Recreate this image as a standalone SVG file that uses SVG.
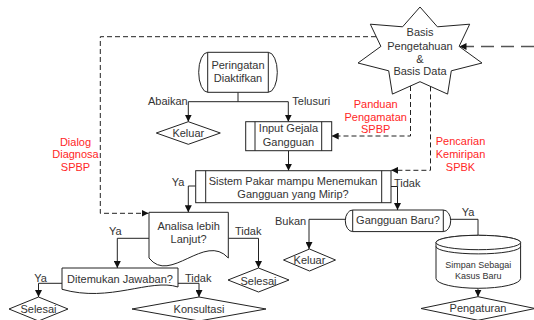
<svg xmlns="http://www.w3.org/2000/svg" width="534" height="320" viewBox="0 0 534 320">
  <style>
    .shape { fill: #ffffff; stroke: #222222; stroke-width: 1; }
    .line { fill: none; stroke: #222222; stroke-width: 1; }
    .dash { fill: none; stroke: #222222; stroke-width: 1; stroke-dasharray: 5 3; }
    .longdash { fill: none; stroke: #555555; stroke-width: 1.6; stroke-dasharray: 13 7; }
    text { font-family: "Liberation Sans", Arial, sans-serif; font-size: 11px; fill: #333333; }
    .c { text-anchor: middle; }
    .r { text-anchor: end; }
    .red { fill: #ff2626; }
    .small { font-size: 9px; }
  </style>
  <defs>
    <marker id="arrow" viewBox="0 0 8 8" refX="8" refY="4" markerWidth="7" markerHeight="7" markerUnits="userSpaceOnUse" orient="auto">
      <path d="M0,0 L8,4 L0,8 Z" fill="#111111"/>
    </marker>
  </defs>

  <rect width="534" height="320" fill="#ffffff"/>

  <!-- connectors -->
  <g id="connectors">
    <!-- Peringatan Diaktifkan branches -->
    <path class="line" d="M238,92.3 V101.7"/>
    <path class="line" d="M188.3,101.7 H288.3"/>
    <path class="line" d="M188.3,101.7 V121.7" marker-end="url(#arrow)"/>
    <path class="line" d="M288.3,101.7 V121.7" marker-end="url(#arrow)"/>
    <!-- Input Gejala to Sistem Pakar -->
    <path class="line" d="M288.5,150.7 V170.7" marker-end="url(#arrow)"/>
    <!-- Sistem Pakar branches -->
    <path class="line" d="M195.7,186 H188.3 V212.3" marker-end="url(#arrow)"/>
    <path class="line" d="M391,186.5 H397.5 V210" marker-end="url(#arrow)"/>
    <!-- Analisa lebih Lanjut branches -->
    <path class="line" d="M149,238.3 H117.3 V268" marker-end="url(#arrow)"/>
    <path class="line" d="M228.3,238.3 H258.5 V268" marker-end="url(#arrow)"/>
    <!-- Ditemukan Jawaban branches -->
    <path class="line" d="M62,283.3 H38.5 V297" marker-end="url(#arrow)"/>
    <path class="line" d="M178,283.3 H199 V297" marker-end="url(#arrow)"/>
    <!-- Gangguan Baru branches -->
    <path class="line" d="M345,219.3 H309 V249" marker-end="url(#arrow)"/>
    <path class="line" d="M450.7,219.3 H478 V235.3"/>
    <!-- cylinder to Pengaturan -->
    <path class="line" d="M478,288.3 V296.7" marker-end="url(#arrow)"/>

    <!-- knowledge base links -->
    <path class="dash" d="M376,36.7 H100.3 V213.3 H148.5" marker-end="url(#arrow)"/>
    <path class="dash" d="M410.5,86 V136 H331.7" marker-end="url(#arrow)"/>
    <path class="dash" d="M430.5,86.4 V170.3 H391.2" marker-end="url(#arrow)"/>
    <path class="longdash" d="M534,46.5 H459.5" marker-end="url(#arrow)"/>
  </g>

  <!-- nodes -->
  <g id="basis-data">
    <polygon class="shape" points="420,7 437.4,26.8 469.7,24.2 459.1,46.4 482,63 451.3,70.8 447.6,94.1 420,81.7 392.4,94.1 388.7,70.8 358,63 380.9,46.4 370.3,24.2 402.6,26.8"/>
    <text class="c" x="420" y="36">Basis</text>
    <text class="c" x="420" y="50">Pengetahuan</text>
    <text class="c" x="420" y="63">&amp;</text>
    <text class="c" x="420" y="75">Basis Data</text>
  </g>

  <g id="peringatan">
    <path class="shape" d="M207.7,52.3 H268.3 A9,20 0 0 1 268.3,92.3 H207.7 A9,20 0 0 1 207.7,52.3 Z"/>
    <path class="line" d="M207.7,52.3 V92.3 M268.3,52.3 V92.3"/>
    <text class="c" x="238" y="69">Peringatan</text>
    <text class="c" x="238" y="82">Diaktifkan</text>
  </g>

  <g id="keluar-1">
    <polygon class="shape" points="188.3,121.7 220.3,133 188.3,144.3 156.3,133"/>
    <text class="c" x="188.3" y="137">Keluar</text>
  </g>

  <g id="input-gejala">
    <rect class="shape" x="245.7" y="121.7" width="86" height="29"/>
    <path class="line" d="M255,121.7 V150.7 M321.7,121.7 V150.7"/>
    <text class="c" x="288.5" y="132">Input Gejala</text>
    <text class="c" x="288.5" y="145.5">Gangguan</text>
  </g>

  <g id="sistem-pakar">
    <rect class="shape" x="195.7" y="170.7" width="195.3" height="32"/>
    <path class="line" d="M205.7,170.7 V202.7 M381.7,170.7 V202.7"/>
    <text class="c" x="293" y="184.7">Sistem Pakar mampu Menemukan</text>
    <text class="c" x="293" y="197.5">Gangguan yang Mirip?</text>
  </g>

  <g id="analisa">
    <path class="shape" d="M149,212.3 H228.3 V258 C205,232 170,285 149,258 Z"/>
    <text class="c" x="188.6" y="229.7">Analisa lebih</text>
    <text class="c" x="188.6" y="243">Lanjut?</text>
  </g>

  <g id="ditemukan">
    <path class="shape" d="M62,268 H178 V287 C150,278 110,303 62,289.3 Z"/>
    <text class="c" x="120" y="283.3">Ditemukan Jawaban?</text>
  </g>

  <g id="selesai-1">
    <polygon class="shape" points="38.5,297 68,309 38.5,321 9,309"/>
    <text class="c" x="38.5" y="313">Selesai</text>
  </g>

  <g id="konsultasi">
    <polygon class="shape" points="199,297 266,309 199,321 132,309"/>
    <text class="c" x="199" y="313">Konsultasi</text>
  </g>

  <g id="selesai-2">
    <polygon class="shape" points="258.5,268 289,280 258.5,292 228,280"/>
    <text class="c" x="258.5" y="284.5">Selesai</text>
  </g>

  <g id="gangguan-baru">
    <path class="shape" d="M352.7,210 H443.3 A7.4,10.8 0 0 1 443.3,231.6 H352.7 A7.4,10.8 0 0 1 352.7,210 Z"/>
    <path class="line" d="M352.7,210 V231.6 M443.3,210 V231.6"/>
    <text class="c" x="398" y="224.3">Gangguan Baru?</text>
  </g>

  <g id="keluar-2">
    <polygon class="shape" points="309.5,249 335.5,260 309.5,271 283.5,260"/>
    <text class="c" x="309.5" y="264">Keluar</text>
  </g>

  <g id="simpan">
    <path class="shape" d="M436,242.5 V278.5 A42.3,9.8 0 0 0 520.6,278.5 V242.5 A42.3,7.2 0 0 0 436,242.5 Z"/>
    <ellipse class="shape" cx="478.3" cy="242.5" rx="42.3" ry="7.2"/>
    <path class="line" d="M436,246.5 A42.3,7.4 0 0 0 520.6,246.5"/>
    <text class="c small" x="478.3" y="268">Simpan Sebagai</text>
    <text class="c small" x="478.3" y="278.5">Kasus Baru</text>
  </g>

  <g id="pengaturan">
    <polygon class="shape" points="478,296.7 535,308.5 478,320.3 421,308.5"/>
    <text class="c" x="478" y="312.3">Pengaturan</text>
  </g>

  <!-- branch labels -->
  <g id="labels">
    <text class="r" x="187.7" y="104.5">Abaikan</text>
    <text x="292.3" y="104.5">Telusuri</text>
    <text x="171.7" y="186">Ya</text>
    <text x="394" y="186.5">Tidak</text>
    <text x="109" y="235">Ya</text>
    <text x="235" y="235">Tidak</text>
    <text x="34.3" y="281.7">Ya</text>
    <text x="185" y="281.7">Tidak</text>
    <text x="275" y="225">Bukan</text>
    <text x="461.7" y="216.3">Ya</text>
    <text class="c red" x="375.7" y="108">Panduan</text>
    <text class="c red" x="375.7" y="121">Pengamatan</text>
    <text class="c red" x="375.7" y="133">SPBP</text>
    <text class="c red" x="460.5" y="145">Pencarian</text>
    <text class="c red" x="460.5" y="158">Kemiripan</text>
    <text class="c red" x="460.5" y="170.7">SPBK</text>
    <text class="c red" x="75.5" y="145.7">Dialog</text>
    <text class="c red" x="75.5" y="158">Diagnosa</text>
    <text class="c red" x="75.5" y="170.7">SPBP</text>
  </g>
</svg>
